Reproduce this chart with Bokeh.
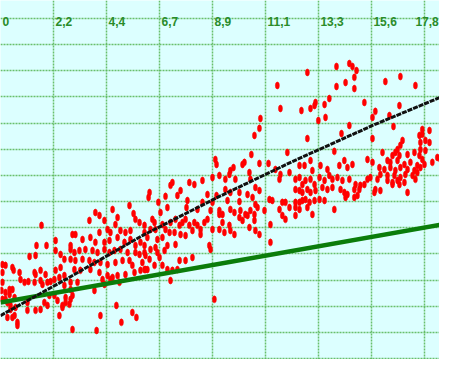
from bokeh.plotting import figure
from bokeh.models import FixedTicker, Range1d, ColumnDataSource
from bokeh.core.properties import value
from bokeh.embed import file_html
from bokeh.resources import INLINE

# ---- tick labels (top row) ----
tick_values = [0.0, 2.222, 4.444, 6.667, 8.889, 11.111, 13.333, 15.556, 17.778]
tick_labels = ["0", "2,2", "4,4", "6,7", "8,9", "11,1", "13,3", "15,6", "17,8"]
row_values = list(range(0, 14))

band_a = [(1.72,5.09),(1.51,4.32),(1.93,4.32),(2.31,4.51),(2.31,4.13),(2.52,3.98),(2.68,3.79),(2.94,4.32),(1.22,3.90),(1.47,3.94),
          (0.08,3.59),(0.08,3.29),(0.08,2.91),(0.04,2.60),(0.21,3.56),(0.50,3.48),(0.55,3.37),(0.80,3.29),(0.84,3.02),(1.01,2.91),
          (1.17,2.94),(1.43,3.29),(1.47,3.21),(1.68,3.37),(1.89,3.21),(1.43,2.91),(1.68,2.98),(1.76,2.83),(1.97,2.91),(2.10,2.94),
          (2.26,3.02),(2.47,3.10),(2.31,3.37),(2.52,3.48),(2.68,3.17),(2.68,2.79),(2.94,2.91),
          (0.21,2.52),(0.38,2.45),(0.50,2.64),(0.59,2.33),(0.08,2.26),(0.29,2.14),(0.42,2.03),(0.63,1.95),(0.38,2.64),(0.21,2.26),
          (0.42,1.87),(0.59,1.64),(0.71,1.38),(0.29,1.57),(0.50,1.57),(0.71,1.26),(1.13,2.14),(1.13,1.84),(1.47,1.84),(1.68,1.87),
          (1.97,2.03),(2.05,2.41),(2.26,2.41),(2.39,2.22),(2.60,1.95),(2.47,1.64),(2.73,2.33),(2.94,2.26),(1.84,2.14),(2.73,2.14),
          (2.89,2.07),(2.60,2.03),(3.02,1.11)]
band_b = [(3.98,5.58),(4.15,5.47),(3.73,5.28),(4.36,5.28),(4.70,5.70),(4.91,5.39),(4.82,5.12),(5.41,5.85),(5.58,5.54),(5.66,5.32),
          (5.83,5.20),(6.04,5.09),(4.49,4.93),(4.61,4.82),(5.03,4.89),(5.24,4.82),(5.45,4.89),
          (3.02,4.74),(3.14,4.74),(3.44,4.55),(3.77,4.63),(4.15,4.82),(3.98,4.44),(4.36,4.44),(4.57,4.51),(4.91,4.63),(5.20,4.44),
          (5.45,4.55),(5.66,4.32),(5.87,4.44),
          (2.94,4.17),(3.10,4.05),(3.31,4.13),(3.56,4.17),(3.86,4.13),(4.07,4.05),(4.36,4.17),(4.57,4.05),(4.78,4.13),(5.03,4.17),
          (5.33,4.05),(5.66,4.05),(5.83,3.98),(6.04,4.05),
          (2.94,3.79),(3.14,3.75),(3.44,3.79),(3.73,3.75),(3.94,3.67),(4.19,3.67),(4.49,3.59),(4.82,3.67),(5.12,3.75),(5.41,3.75),
          (5.53,3.56),(5.95,3.67),
          (3.10,3.40),(3.35,3.37),(3.77,3.40),(4.15,3.29),(4.28,3.02),(4.49,3.17),(4.70,3.10),(4.91,3.17),(5.24,3.21),(5.62,3.29),
          (5.87,3.37),(6.08,3.40),
          (3.23,2.91),(2.94,2.64),(3.02,2.41),(3.94,2.60),(4.36,2.83),(4.61,3.02),(4.99,2.91),
          (4.19,1.64),(4.86,2.03),(5.07,1.38),(5.53,1.76),(5.70,1.57),(4.03,1.07)]
band_c = [(9.01,7.61),(9.06,7.42),(9.18,7.00),(8.89,6.92),
          (7.21,6.73),(7.13,6.62),(7.92,6.73),(8.13,6.65),(8.47,6.81),
          (6.25,6.35),(6.21,6.16),(6.92,6.20),(7.42,6.23),(7.55,6.42),(7.84,6.04),(8.68,6.27),(8.89,5.97),(9.06,6.23),
          (6.62,5.97),(6.71,5.58),(7.00,5.77),(7.80,5.77),(8.26,5.70),(8.47,5.97),(8.81,5.66),(9.18,5.51),
          (6.37,5.32),(6.46,5.20),(6.50,4.93),(6.29,4.93),(6.79,5.12),(6.92,4.93),(7.13,5.20),(7.34,5.32),(7.51,5.09),(7.63,5.20),
          (7.76,5.32),(7.92,5.09),(8.13,5.20),(8.26,5.09),(8.39,4.93),(8.55,5.20),(8.68,5.32),(8.89,4.93),(9.18,4.93),
          (6.04,4.82),(6.16,4.63),(6.58,4.55),(6.79,4.63),(7.09,4.82),(7.30,4.82),(7.55,4.74),(7.76,4.70),(8.05,4.89),(8.39,4.74),
          (6.04,4.32),(6.29,4.17),(6.50,4.24),(7.00,4.32),(6.88,4.13),(7.34,4.36),(8.76,4.32),(8.81,4.17),
          (6.08,3.94),(6.25,3.79),(6.67,3.86),(6.58,4.05),
          (6.04,3.40),(6.16,3.40),(6.46,3.56),(6.79,3.56),(7.00,3.40),(7.21,3.37),(7.13,2.98),(7.51,3.75),(7.76,3.75),(8.05,3.86),
          (7.42,3.40),(8.97,2.26)]
band_d = [(11.61,10.44),(11.74,9.56),(10.90,9.18),(10.86,8.80),(10.65,8.53),
          (10.52,7.80),(12.03,7.88),(10.86,7.46),(11.24,7.46),(10.15,7.42),(10.23,7.50),(9.64,7.19),(9.77,7.30),(9.60,7.04),
          (9.43,6.85),(9.85,6.85),(10.44,7.11),(10.48,6.85),(11.53,7.23),(11.74,7.04),(11.70,6.85),(12.12,7.11),(12.37,6.85),
          (9.43,6.46),(9.64,6.35),(10.02,6.35),(10.36,6.27),(10.69,6.54),(10.86,6.42),(10.57,6.16),(9.52,6.04),(10.02,6.00),
          (10.69,5.89),(11.28,6.08),(11.40,6.04),(11.82,5.97),(11.95,5.97),(12.12,5.77),(11.70,5.70),(12.37,5.97),
          (9.18,5.66),(9.31,5.51),(9.64,5.70),(9.81,5.58),(10.06,5.66),(10.27,5.51),(10.48,5.66),(10.65,5.51),(10.78,5.77),
          (11.07,5.66),(9.31,5.20),(10.02,5.39),(10.15,5.28),(10.36,5.47),(10.65,5.28),(11.82,5.47),(11.95,5.32),(12.37,5.47),
          (9.39,4.82),(9.60,5.09),(9.64,4.89),(9.81,4.74),(10.44,5.01),(10.69,4.89),(10.86,4.74),(11.32,5.12),(11.32,4.44)]
band_e = [(14.09,11.17),(14.63,11.28),(14.76,11.17),(14.93,11.01),(12.87,10.94),(14.84,10.75),(14.47,10.55),(14.09,10.40),
          (14.84,10.32),(13.79,9.94),(13.59,9.71),(13.21,9.79),(13.17,9.67),(13.00,9.56),(12.62,9.48),(15.26,9.79),(13.63,9.22),
          (13.33,9.10),(14.63,8.91),(12.87,8.41),(14.30,8.60),(14.00,7.92),
          (12.54,7.38),(12.75,7.38),(13.00,7.57),(13.08,7.19),(13.42,7.38),(13.71,7.23),(14.21,7.38),(14.42,7.57),(14.55,7.30),
          (14.76,7.42),
          (12.54,6.92),(12.66,6.65),(12.79,6.81),(13.00,6.85),(13.17,6.65),(13.38,6.92),(13.59,6.81),(13.79,7.00),(13.92,6.85),
          (14.13,6.92),(14.34,6.81),(14.63,6.85),(14.89,6.65),(15.09,6.62),(15.26,6.65),(15.39,6.85),
          (12.37,6.46),(12.54,6.42),(12.66,6.35),(12.87,6.46),(13.00,6.35),(13.21,6.42),(13.50,6.54),(13.71,6.46),(13.92,6.54),
          (14.26,6.46),(14.42,6.35),(14.55,6.27),(14.84,6.46),(15.05,6.46),
          (12.54,5.97),(12.66,6.04),(12.79,6.08),(12.96,5.97),(13.17,6.04),(13.38,6.08),(13.59,6.04),(14.47,6.16),(14.84,6.16),
          (14.97,6.23),(12.37,5.77),(12.54,5.70),(12.87,5.77),(14.00,5.70),(13.08,5.51)]
band_f = [(16.14,10.59),(16.77,10.78),(17.40,10.44),(18.66,9.90),
          (16.73,9.67),(15.72,9.45),(15.60,9.22),(16.31,9.29),(16.48,8.87),
          (17.69,8.76),(17.69,8.57),(17.99,8.72),(15.60,8.41),(17.57,8.53),(17.61,8.26),(17.82,8.34),(17.99,8.26),(16.86,8.34),
          (16.77,8.15),
          (17.61,7.99),(17.82,7.95),(16.65,7.99),(16.56,7.88),(16.02,7.88),(16.44,7.76),(16.73,7.76),(17.07,7.80),(17.36,7.88),
          (17.57,7.76),(17.69,7.61),(18.32,7.69),(18.53,7.80),(18.66,7.61),(15.39,7.61),(15.60,7.50),
          (16.23,7.57),(16.35,7.50),(16.65,7.57),(16.94,7.42),(17.19,7.50),(17.48,7.38),(17.78,7.42),(18.11,7.50),(18.45,7.61),
          (15.89,7.30),(16.10,7.23),(16.35,7.30),(16.56,7.19),(16.77,7.30),(17.07,7.23),(17.36,7.19),(17.61,7.30),
          (15.93,7.04),(16.23,7.00),(16.52,7.00),(16.77,6.92),(16.98,7.04),(17.28,7.00),(17.48,7.11),
          (15.51,6.92),(15.81,6.85),(16.23,6.81),(16.44,6.73),(16.65,6.81),(16.94,6.73),(17.40,6.85),
          (15.72,6.46),(15.93,6.42),(16.44,6.65),(16.73,6.65),(17.07,6.35),(15.68,6.35)]

# ---- fitted curves ----
trend_x = [0.0, 2.81, 5.95, 9.10, 12.24, 15.60, 18.74]
trend_y = [1.64, 3.06, 4.70, 6.16, 7.53, 8.91, 10.10]
base_x = [0.0, 18.74]
base_y = [2.14, 5.16]

label_row = 12.89

points = band_a + band_b + band_c + band_d + band_e + band_f
px = [pt[0] for pt in points]
py = [pt[1] for pt in points]

p = figure(width=439, height=359, x_range=Range1d(0, 18.41), y_range=Range1d(-0.04, 13.69),
           output_backend="svg", toolbar_location=None, min_border=0)
p.background_fill_color = "#dcffff"
p.border_fill_color = "#dcffff"
p.outline_line_color = None
p.xaxis.visible = False
p.yaxis.visible = False
p.xgrid.ticker = FixedTicker(ticks=tick_values)
p.ygrid.ticker = FixedTicker(ticks=row_values)
p.grid.grid_line_color = "#5cb85c"
p.grid.grid_line_dash = "2 1"
p.grid.grid_line_width = 1.5
p.grid.grid_line_alpha = 0.9

p.ellipse(x=px, y=py, width=4, height=7, width_units="screen", height_units="screen",
          fill_color="#ff0000", line_color="#ff0000", line_width=0.5)
p.line(base_x, base_y, line_color="#0b7d0b", line_width=4.5)
p.line(trend_x, trend_y, line_color="#111111", line_width=3, line_dash="5 1")

# the last label is nudged left so that it stays inside the window
nudge = [2] * (len(tick_values) - 1) + [-9]
src = ColumnDataSource(dict(x=tick_values, y=[label_row] * len(tick_values), t=tick_labels, dx=nudge))
p.text(x="x", y="y", text="t", source=src, x_offset="dx", text_align="left", text_baseline="alphabetic",
       text_font=value("Liberation Sans"), text_font_size="12px", text_font_style="bold",
       text_color="#2a8c2a")

open("out.html", "w").write(file_html(p, INLINE))
